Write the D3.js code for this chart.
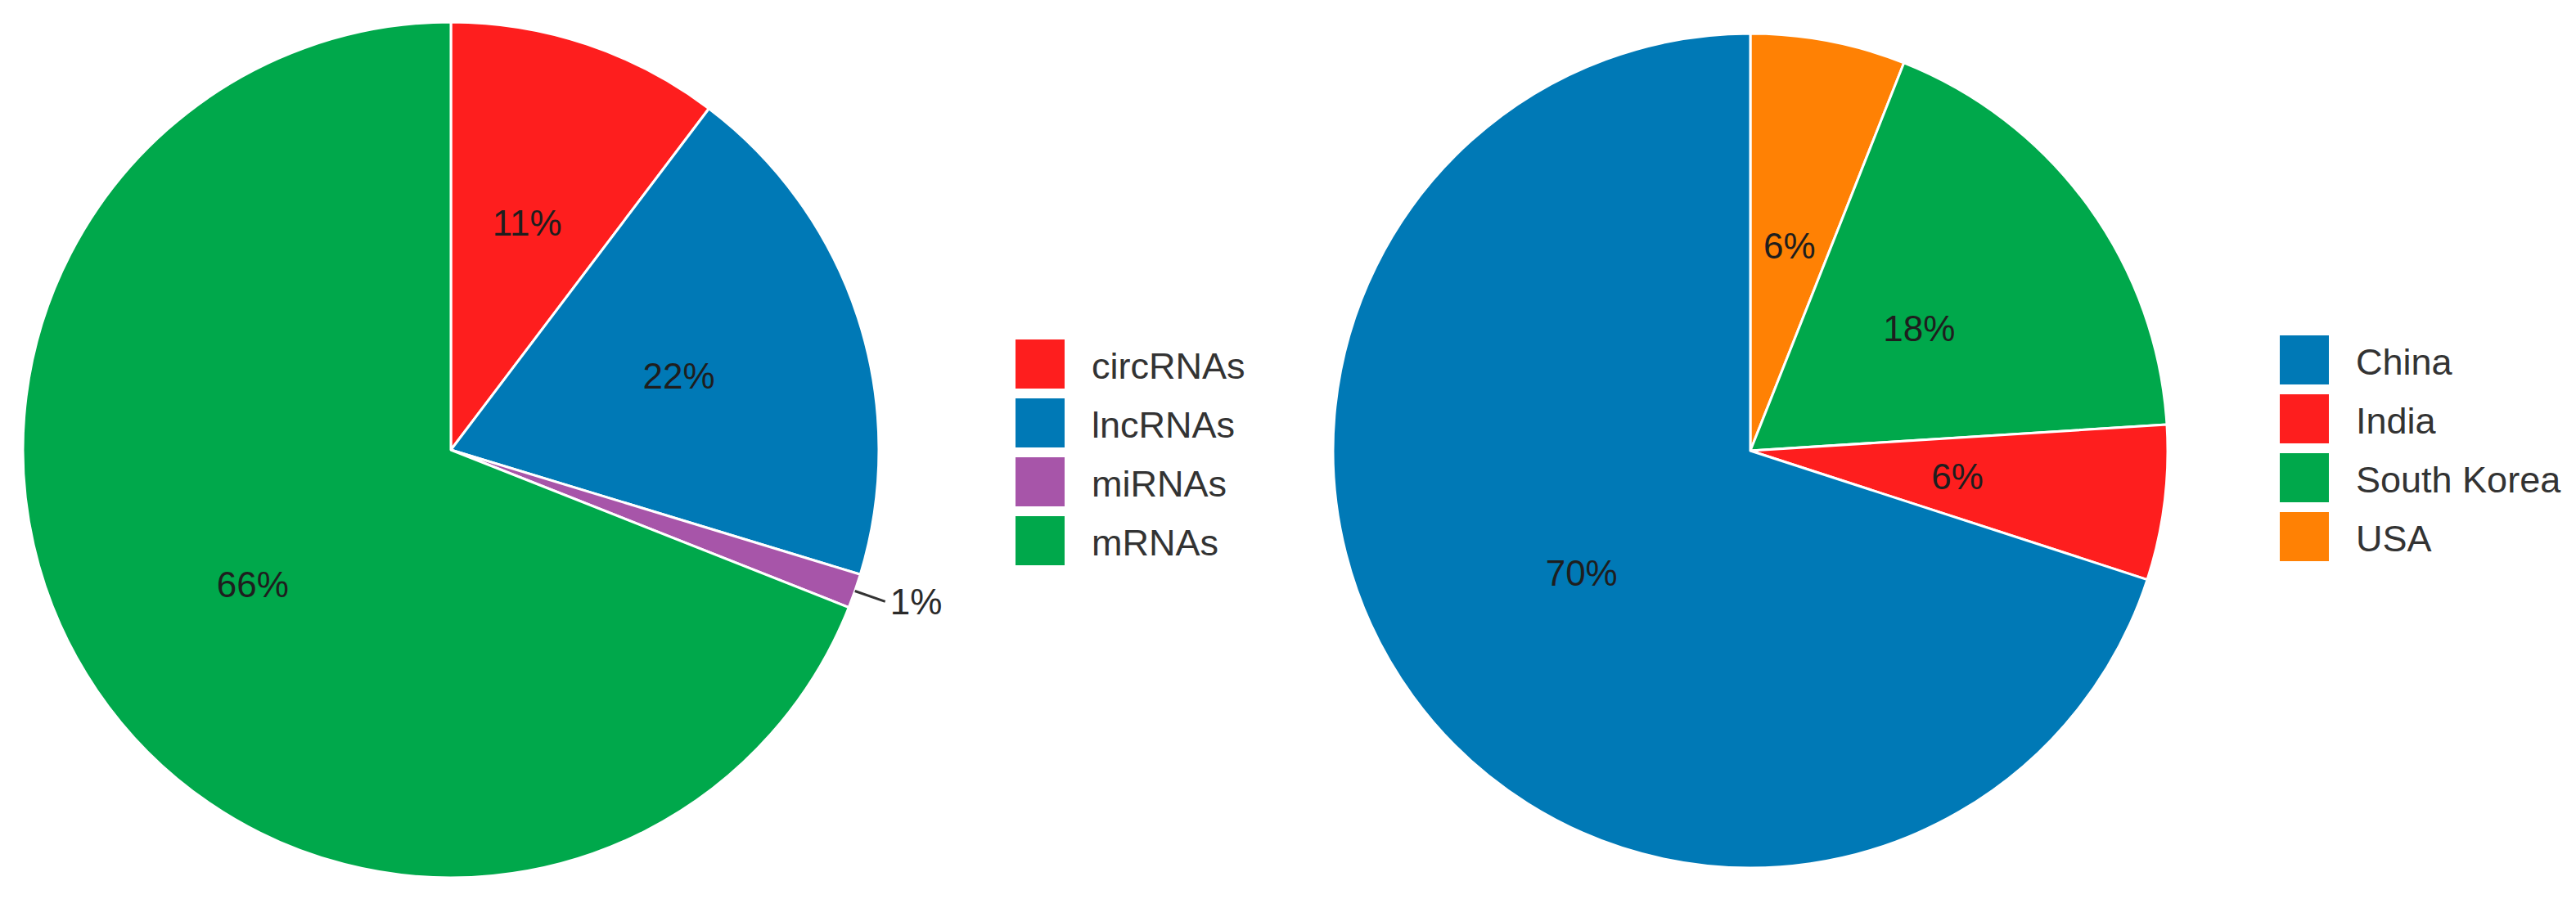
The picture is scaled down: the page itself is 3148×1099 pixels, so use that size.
<!DOCTYPE html>
<html>
<head>
<meta charset="utf-8">
<script src="https://cdn.jsdelivr.net/npm/d3@7/dist/d3.min.js"></script>
<style>
  html, body { margin: 0; padding: 0; background: #ffffff; }
  svg { display: block; }
  text { font-family: "Liberation Sans", Arial, Helvetica, sans-serif; }
</style>
</head>
<body>
<svg id="chart" width="3148" height="1099"></svg>
<script>
// ---------- data ----------
const rnaCategories = ["circRNAs", "lncRNAs", "miRNAs", "mRNAs"];
const rnaValues = [10.3, 19.4, 1.3, 69.0];           // slice sizes as drawn
const rnaLabels = ["11%", "22%", "1%", "66%"];        // printed labels
const rnaColors = ["#fe1e1e", "#0079b6", "#a755a9", "#00a84b"];

const countryCategories = ["China", "India", "South Korea", "USA"];
const countryValues = [70, 6, 18, 6];
const countryLabels = ["70%", "6%", "18%", "6%"];
const countryColors = ["#0079b6", "#fe1e1e", "#00a84b", "#ff8104"];

// ---------- drawing ----------
const svg = d3.select("#chart");
svg.append("rect").attr("width", 3148).attr("height", 1099).attr("fill", "#ffffff");

function drawPie(opts) {
  const items = opts.categories.map((c, i) => ({
    name: c, value: opts.values[i], label: opts.labels[i], color: opts.colors[i]
  }));
  const ordered = opts.reverse ? items.slice().reverse() : items;
  const pie = d3.pie().sort(null).value(d => d.value).startAngle(0).endAngle(2 * Math.PI);
  const arcs = pie(ordered);
  const R = opts.radius;
  const arc = d3.arc().innerRadius(0).outerRadius(R);
  const labelArc = d3.arc().innerRadius(R * opts.labelPos).outerRadius(R * opts.labelPos);

  const g = svg.append("g").attr("transform", `translate(${opts.cx},${opts.cy})`);
  g.selectAll("path.slice").data(arcs).join("path")
    .attr("class", "slice")
    .attr("d", arc)
    .attr("fill", d => d.data.color)
    .attr("stroke", "#ffffff")
    .attr("stroke-width", 3)
    .attr("stroke-linejoin", "round");

  arcs.forEach(d => {
    const frac = (d.endAngle - d.startAngle) / (2 * Math.PI);
    const mid = (d.startAngle + d.endAngle) / 2;
    if (frac < 0.03) {
      // outside label with leader line
      const p0 = [Math.sin(mid) * R, -Math.cos(mid) * R];
      const p1 = [Math.sin(mid) * R * 1.075, -Math.cos(mid) * R * 1.075];
      g.append("line")
        .attr("x1", p0[0]).attr("y1", p0[1]).attr("x2", p1[0]).attr("y2", p1[1])
        .attr("stroke", "#333333").attr("stroke-width", 3);
      g.append("text")
        .attr("x", p1[0] + 6).attr("y", p1[1] + 4)
        .attr("dominant-baseline", "middle")
        .attr("text-anchor", "start")
        .attr("font-size", 44)
        .attr("fill", "#2a2a2a")
        .text(d.data.label);
    } else {
      const c = labelArc.centroid(d);
      g.append("text")
        .attr("x", c[0]).attr("y", c[1])
        .attr("text-anchor", "middle")
        .attr("dominant-baseline", "central")
        .attr("font-size", 44)
        .attr("fill", "#1e1e1e")
        .text(d.data.label);
    }
  });

  // legend
  const lg = svg.append("g").attr("transform", `translate(${opts.legendX},${opts.legendY})`);
  const rows = lg.selectAll("g").data(items).join("g")
    .attr("transform", (d, i) => `translate(0,${i * 72})`);
  rows.append("rect")
    .attr("width", 60).attr("height", 60)
    .attr("fill", d => d.color);
  rows.append("text")
    .attr("x", 93).attr("y", 32)
    .attr("dominant-baseline", "central")
    .attr("font-size", 45)
    .attr("fill", "#333333")
    .text(d => d.name);
}

drawPie({
  categories: rnaCategories, values: rnaValues, labels: rnaLabels, colors: rnaColors,
  cx: 551, cy: 550, radius: 523, labelPos: 0.56, reverse: false,
  legendX: 1241, legendY: 415
});

drawPie({
  categories: countryCategories, values: countryValues, labels: countryLabels, colors: countryColors,
  cx: 2139, cy: 551, radius: 510, labelPos: 0.5, reverse: true,
  legendX: 2786, legendY: 410
});
</script>
</body>
</html>
